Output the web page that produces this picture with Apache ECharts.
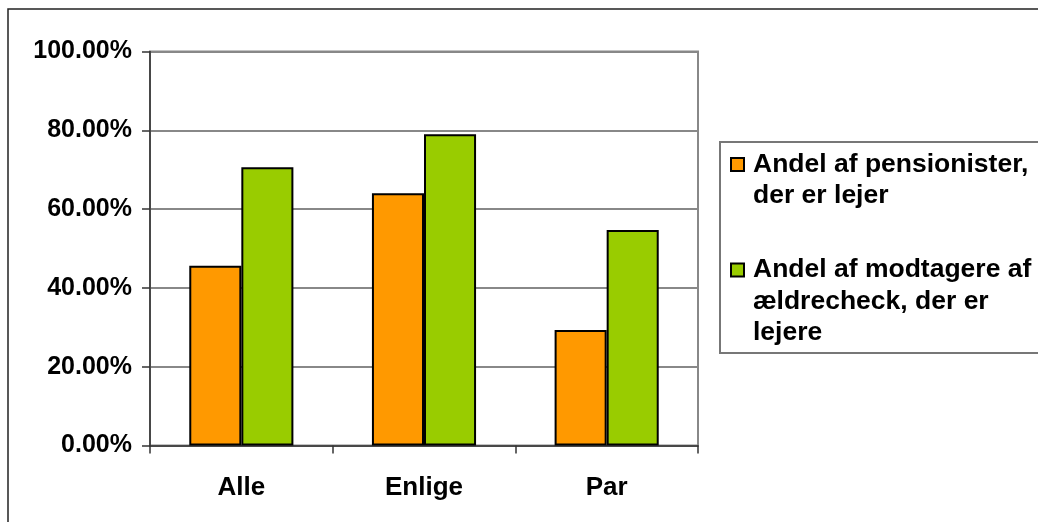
<!DOCTYPE html>
<html>
<head>
<meta charset="utf-8">
<script src="https://cdn.jsdelivr.net/npm/echarts@6/dist/echarts.min.js"></script>
<style>
html,body{margin:0;padding:0;background:#fff;}
#chart{width:1038px;height:522px;}
</style>
</head>
<body>
<div id="chart"></div>
<script>
var categories = ['Alle', 'Enlige', 'Par'];
var seriesNames = ['Andel af pensionister, der er lejer', 'Andel af modtagere af ældrecheck, der er lejere'];
var legendLines = [
  ['Andel af pensionister,', 'der er lejer'],
  ['Andel af modtagere af', 'ældrecheck, der er', 'lejere']
];
var pensionister = [0.456, 0.640, 0.293];
var aeldrecheck = [0.706, 0.790, 0.547];
var yTickLabels = ['0.00%', '20.00%', '40.00%', '60.00%', '80.00%', '100.00%'];

var FONT = 'Liberation Sans, Arial, sans-serif';
var chart = echarts.init(document.getElementById('chart'), null, {renderer: 'canvas'});
var LH = 31.5;

function legendFor(i, iconCenter) {
  var lines = legendLines[i];
  var n = lines.length;
  var pad = [];
  for (var k = 0; k < n - 1; k++) pad.push(' ');
  var text = pad.concat(lines).join('\n');
  var total = 2 * n - 1;
  return {
    orient: 'vertical',
    left: 730,
    top: iconCenter - total * LH / 2,
    padding: 0,
    itemWidth: 13,
    itemHeight: 13,
    icon: 'rect',
    selectedMode: false,
    data: [seriesNames[i]],
    formatter: function () { return text; },
    itemStyle: {borderColor: '#000', borderWidth: 2},
    textStyle: {
      fontFamily: FONT, fontWeight: 'bold', fontSize: 26.5, color: '#000',
      lineHeight: LH, padding: [0, 0, 0, 4],
      backgroundColor: 'rgba(0,0,0,0)'
    }
  };
}

chart.setOption({
  animation: false,
  backgroundColor: '#fff',
  graphic: [
    {type: 'rect', silent: true, z: -1, shape: {x: 8, y: 9, width: 1100, height: 600},
     style: {fill: 'none', stroke: '#222', lineWidth: 1.5}},
    {type: 'rect', silent: true, z: -1, shape: {x: 720, y: 142, width: 400, height: 211},
     style: {fill: 'none', stroke: '#777', lineWidth: 2}}
  ],
  legend: [
    legendFor(0, 164.5),
    legendFor(1, 270)
  ],
  grid: {left: 150, right: 340, top: 51.5, bottom: 76.5, show: true, borderColor: '#888', borderWidth: 2, containLabel: false},
  xAxis: {
    type: 'category',
    data: categories,
    axisLine: {lineStyle: {color: '#333', width: 1.5}},
    axisTick: {show: true, length: 8, lineStyle: {color: '#333', width: 1.5}},
    axisLabel: {fontFamily: FONT, fontWeight: 'bold', fontSize: 26, color: '#000', margin: 29}
  },
  yAxis: {
    type: 'value',
    min: 0, max: 1, interval: 0.2,
    axisLine: {show: true, lineStyle: {color: '#333', width: 1.5}},
    axisTick: {show: true, length: 8, lineStyle: {color: '#333', width: 1.5}},
    splitLine: {show: true, lineStyle: {color: '#888', width: 2}},
    axisLabel: {
      fontFamily: FONT, fontWeight: 'bold', fontSize: 25, color: '#000', margin: 18,
      formatter: function (v) { return yTickLabels[Math.round(v / 0.2)]; }
    }
  },
  series: [
    {name: seriesNames[0], type: 'bar', data: pensionister, barGap: '0%', barCategoryGap: '43%',
     itemStyle: {color: '#FF9900', borderColor: '#000', borderWidth: 2}},
    {name: seriesNames[1], type: 'bar', data: aeldrecheck, barGap: '0%', barCategoryGap: '43%',
     itemStyle: {color: '#99CC00', borderColor: '#000', borderWidth: 2}}
  ]
});
</script>
</body>
</html>
